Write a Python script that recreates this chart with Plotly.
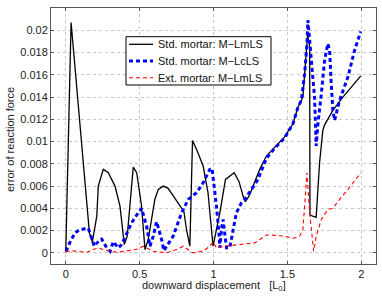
import plotly.graph_objects as go

# Std. mortar: M-LmLS (black solid)
x_black = [0.0, 0.036, 0.16, 0.18, 0.21, 0.22, 0.254, 0.288, 0.333, 0.367, 0.396, 0.416,
           0.457, 0.48, 0.513, 0.536, 0.558, 0.603, 0.626, 0.66, 0.693, 0.772, 0.8, 0.817, 0.84,
           0.858, 0.885, 0.93, 0.963, 0.997, 1.043, 1.081, 1.14, 1.173, 1.2, 1.216, 1.245, 1.268,
           1.313, 1.358, 1.403, 1.48, 1.538, 1.572, 1.605, 1.628, 1.637, 1.651, 1.653, 1.695,
           1.718, 1.74, 1.752, 1.808, 1.876, 1.997]
y_black = [0.0001, 0.0207, 0.0018, 0.001, 0.0033, 0.006, 0.0075, 0.0072, 0.006, 0.0042,
           0.00075, 0.0015, 0.0077, 0.0072, 0.0042, 0.0003, 0.0012, 0.0048, 0.0057, 0.006, 0.0058,
           0.0043, 0.0037, 0.0021, 0.0006, 0.0101, 0.0093, 0.0078, 0.0054, 0.0006, 0.0036, 0.0066,
           0.0072, 0.0064, 0.0051, 0.0046, 0.0052, 0.006, 0.0075, 0.0087, 0.0093, 0.0104, 0.0116,
           0.0131, 0.014, 0.0179, 0.0196, 0.0185, 0.0034, 0.0032, 0.0081, 0.011, 0.0115, 0.0128,
           0.014, 0.0159]

# Std. mortar: M-LcLS (blue dashed)
x_blue = [0.002, 0.03, 0.063, 0.097, 0.153, 0.176, 0.193, 0.232, 0.243, 0.277, 0.3, 0.322, 0.355,
          0.378, 0.412, 0.446, 0.49, 0.513, 0.547, 0.57, 0.592, 0.615, 0.649, 0.664, 0.727, 0.784,
          0.829, 0.885, 0.93, 0.975, 0.99, 0.997, 1.02, 1.036, 1.043, 1.054, 1.065, 1.081, 1.088,
          1.11, 1.132, 1.155, 1.189, 1.211, 1.257, 1.301, 1.358, 1.414, 1.48, 1.538, 1.572, 1.595,
          1.617, 1.633, 1.639, 1.662, 1.684, 1.695, 1.707, 1.73, 1.752, 1.774, 1.786, 1.797, 1.808,
          1.82, 1.853, 1.91, 1.955, 1.997]
y_blue = [0.00015, 0.001, 0.0018, 0.0021, 0.0022, 0.0013, 0.0006, 0.0012, 0.00125, 0.00045, 0.00015,
          0.001, 0.00045, 0.00075, 0.0018, 0.0027, 0.0036, 0.004, 0.0024, 0.0006, 0.0015, 0.0028,
          0.0012, 0.0002, 0.0015, 0.0036, 0.0048, 0.0054, 0.0063, 0.0075, 0.0076, 0.0069, 0.0042,
          0.0019, 0.00045, 0.0021, 0.003, 0.0012, 0.00045, 0.00045, 0.0021, 0.0036, 0.0045, 0.0048,
          0.0057, 0.0066, 0.0085, 0.0094, 0.0103, 0.0116, 0.0131, 0.0137, 0.0161, 0.0188, 0.0209,
          0.017, 0.014, 0.0096, 0.0116, 0.0143, 0.0173, 0.0188, 0.0182, 0.0152, 0.0128, 0.0119,
          0.0137, 0.0158, 0.0182, 0.0199]

# Ext. mortar: M-LmLS (red dashed)
x_red = [0.0, 0.03, 0.074, 0.142, 0.186, 0.22, 0.254, 0.3, 0.345, 0.4, 0.457, 0.49, 0.524, 0.592,
         0.682, 0.75, 0.795, 0.829, 0.862, 0.93, 0.975, 0.997, 1.02, 1.076, 1.166, 1.28, 1.358,
         1.392, 1.48, 1.538, 1.583, 1.605, 1.617, 1.628, 1.632, 1.651, 1.673, 1.678, 1.695, 1.73,
         1.774, 1.808, 1.853, 1.91, 1.997]
y_red = [0.00005, 0.0002, 0.00015, 0.00005, 0.0003, 0.00045, 0.0003, 0.00015, 0.00005, 0.00015,
         0.0003, 0.00035, 0.0006, 0.00015, 0.0, 0.0003, 0.0006, 0.0003, 0.0, 0.00015, 0.0006, 0.001,
         0.00045, 0.0006, 0.00075, 0.0009, 0.0016, 0.0016, 0.0015, 0.0013, 0.0015, 0.0021, 0.0042,
         0.0069, 0.0072, 0.0036, 0.0003, 0.00015, 0.0015, 0.003, 0.0039, 0.004, 0.0048, 0.0057,
         0.0072]

series_names = ["Std. mortar: M\u2212LmLS", "Std. mortar: M\u2212LcLS", "Ext. mortar: M\u2212LmLS"]

x_ticks = [0, 0.5, 1, 1.5, 2]
x_tick_labels = ["0", "0.5", "1", "1.5", "2"]
y_ticks = [0, 0.002, 0.004, 0.006, 0.008, 0.01, 0.012, 0.014, 0.016, 0.018, 0.02]
y_tick_labels = ["0", "0.002", "0.004", "0.006", "0.008", "0.01", "0.012", "0.014", "0.016", "0.018", "0.02"]

styles = [dict(color="black", width=1.3),
          dict(color="blue", width=3, dash="4px,3px"),
          dict(color="red", width=1.1, dash="4px,3px")]

fig = go.Figure()
for xs, ys, name, st in zip([x_black, x_blue, x_red], [y_black, y_blue, y_red], series_names, styles):
    fig.add_trace(go.Scatter(x=xs, y=ys, mode="lines", name=name, line=st, showlegend=False))

axis_common = dict(showline=True, linecolor="#555555", linewidth=1, mirror="ticks",
                   ticks="inside", ticklen=3, tickcolor="#555555", automargin=False,
                   showgrid=True, gridcolor="#c8c8c8", griddash="dot", gridwidth=1,
                   zeroline=False, tickfont=dict(size=11, color="#222"))

# Manual legend (box, samples, labels) in paper coordinates
L, R, T, B = 51, 376, 8, 264
W, H = R - L, B - T
px = lambda v: (v - L) / W
py = lambda v: (B - v) / H

shapes = [dict(type="rect", xref="paper", yref="paper", x0=px(126), x1=px(271), y0=py(85), y1=py(36.7),
               line=dict(color="black", width=1), fillcolor="white", layer="above")]
annotations = []
row_y = [44.3, 61, 77.7]
for name, st, ry in zip(series_names, styles, row_y):
    shapes.append(dict(type="line", xref="paper", yref="paper", x0=px(129), x1=px(153),
                       y0=py(ry), y1=py(ry), line=st, layer="above"))
    annotations.append(dict(text=name, xref="paper", yref="paper", x=px(155.5), y=py(ry),
                            xanchor="left", yanchor="middle", showarrow=False,
                            font=dict(size=11, color="#111")))

annotations.append(dict(text="error of reaction force", xref="paper", yref="paper",
                        x=px(10), y=py(140), textangle=-90, showarrow=False,
                        xanchor="center", yanchor="middle", font=dict(size=11, color="#222")))
annotations.append(dict(text="downward displacement   [L<sub>0</sub>]", xref="paper", yref="paper",
                        x=px(214), y=py(285.5), showarrow=False,
                        xanchor="center", yanchor="middle", font=dict(size=11, color="#222")))

fig.update_layout(
    width=382, height=299,
    margin=dict(l=L, r=382 - R, t=T, b=299 - B),
    paper_bgcolor="white", plot_bgcolor="white",
    font=dict(family="Liberation Sans, Arial, sans-serif", size=11, color="#222"),
    xaxis=dict(range=[-0.1, 2.1], tickvals=x_ticks, ticktext=x_tick_labels, **axis_common),
    yaxis=dict(range=[-0.001, 0.022], tickvals=y_ticks, ticktext=y_tick_labels, **axis_common),
    shapes=shapes,
    annotations=annotations,
    showlegend=False,
)

fig.write_html("out.html", config={"displayModeBar": False},
               post_script="document.body.style.margin='0';")
